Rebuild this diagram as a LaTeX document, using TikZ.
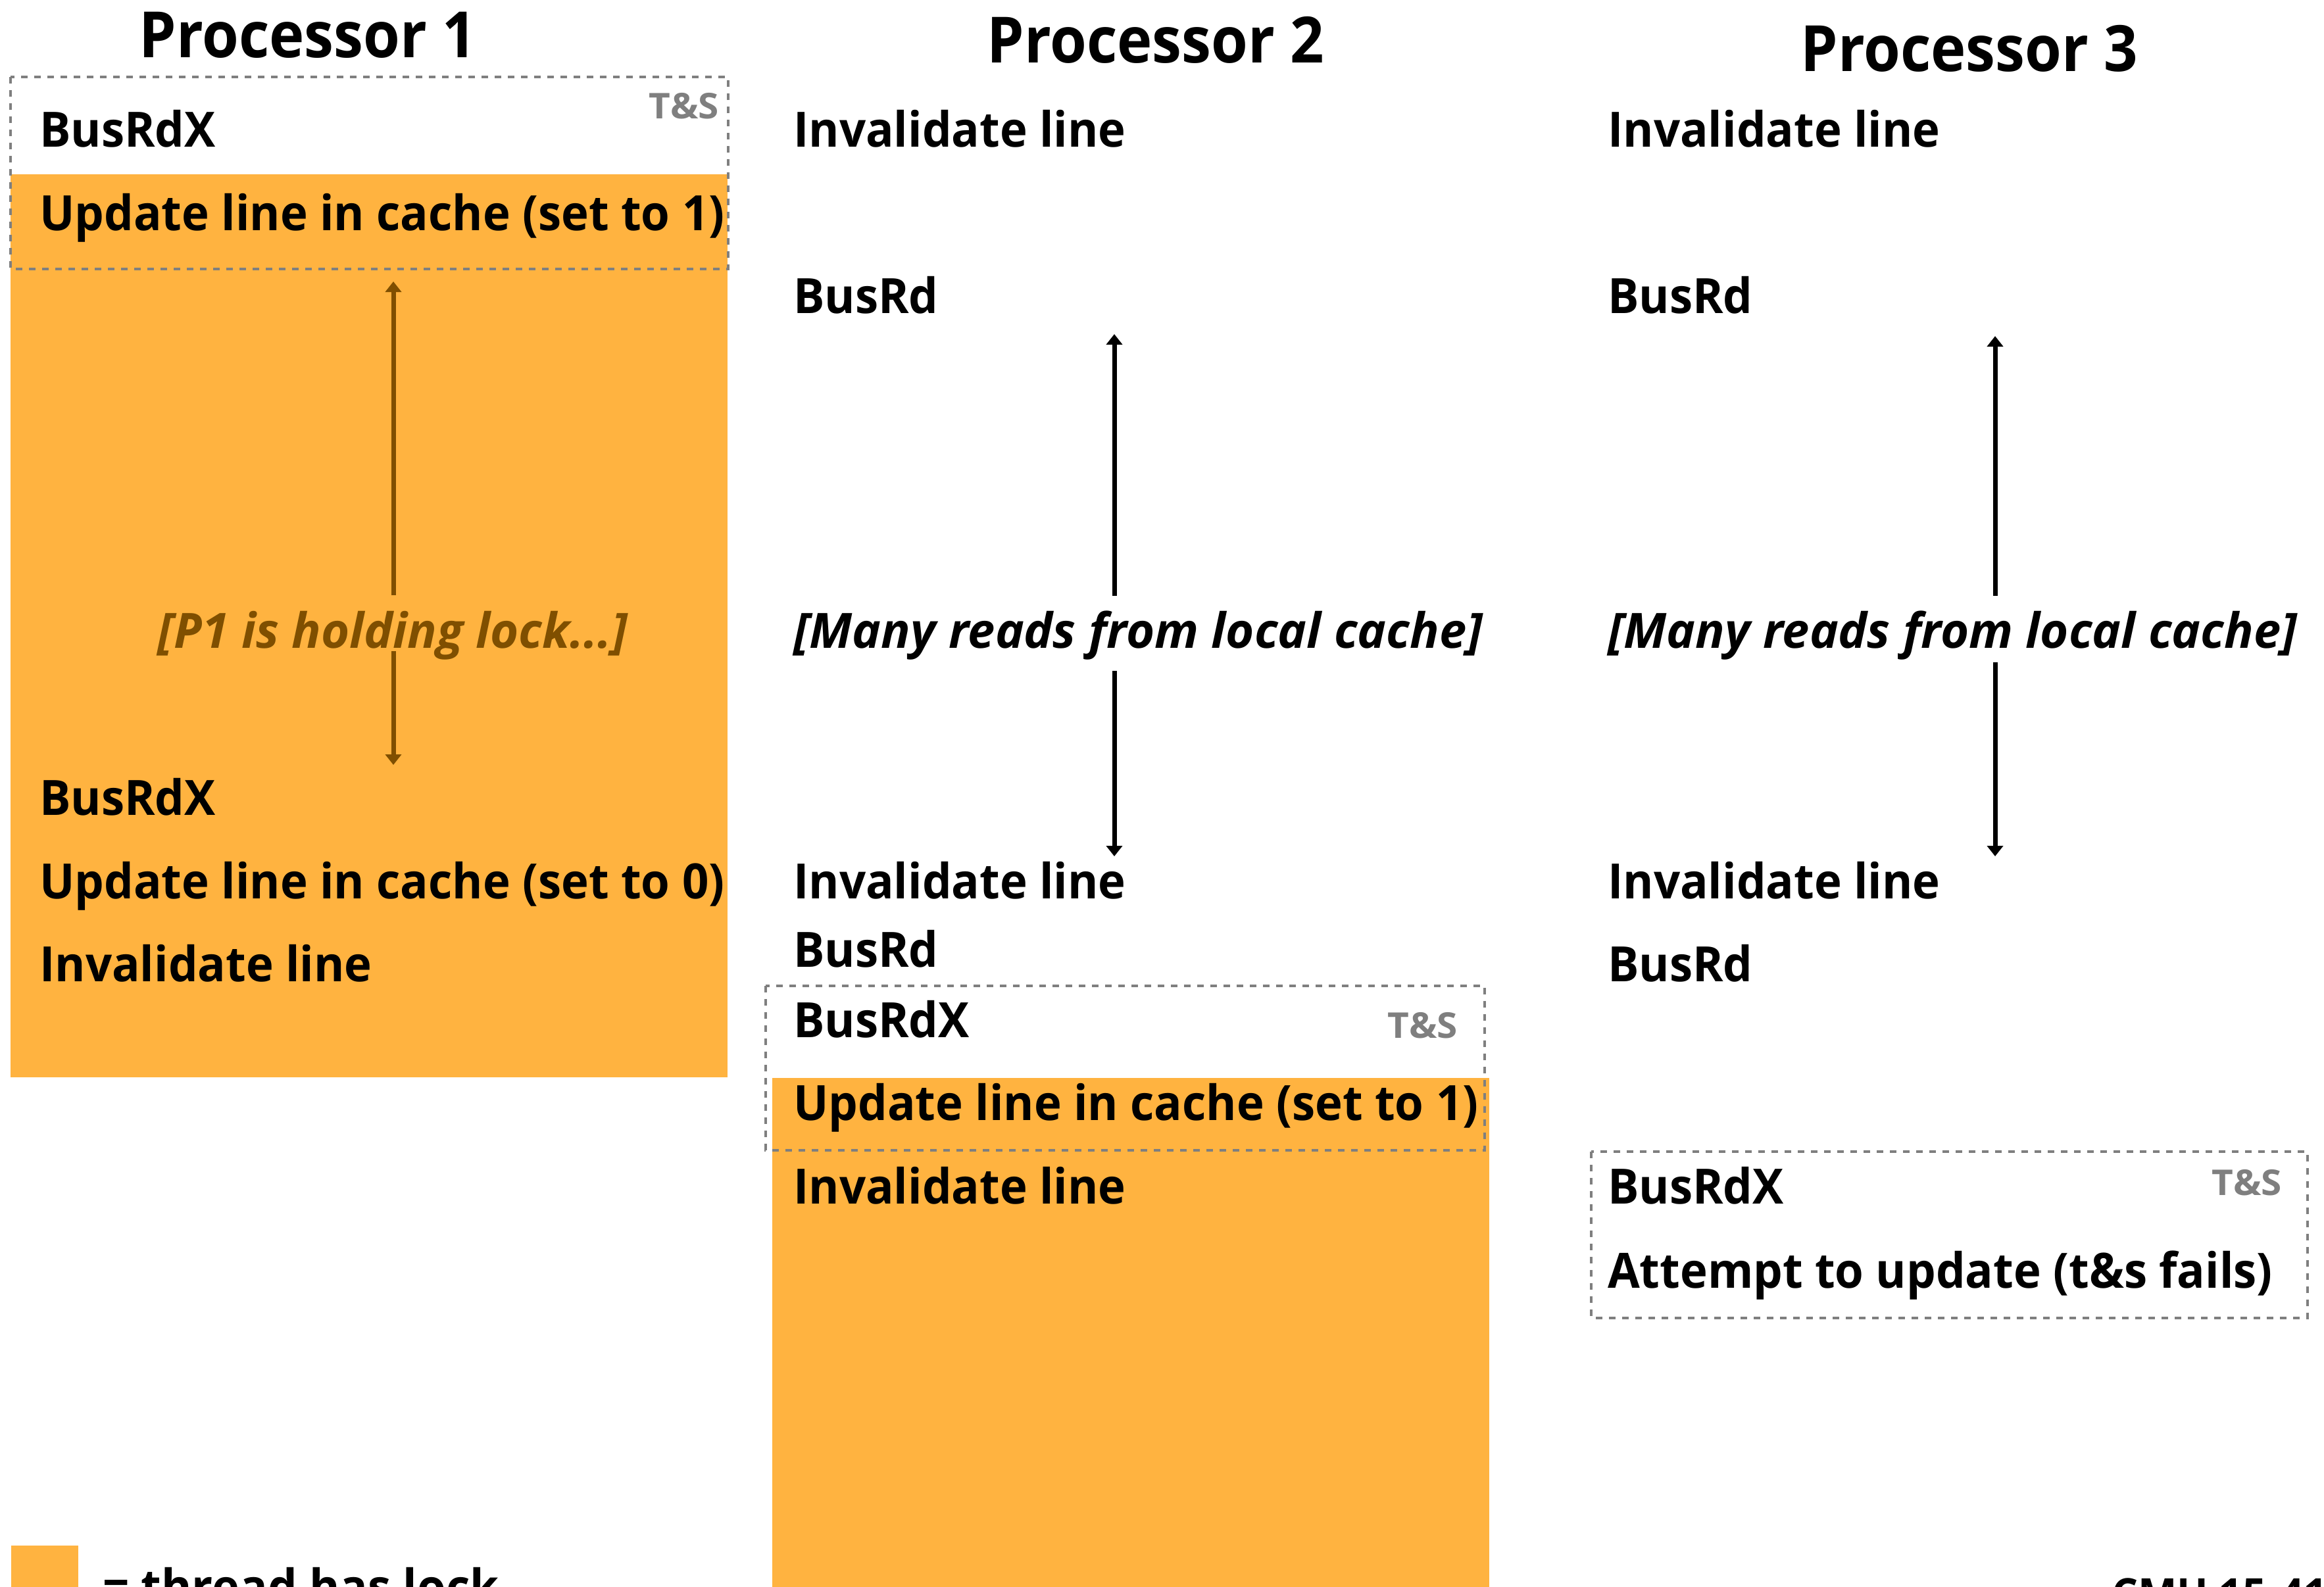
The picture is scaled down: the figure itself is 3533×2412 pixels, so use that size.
\documentclass[tikz,border=0pt]{standalone}
\usepackage{fontspec}
\setmainfont{Open Sans}[FakeStretch=0.955]
\newfontfamily\notefont{Open Sans}[FakeStretch=1.0]
\newfontfamily\headfont{Open Sans}[FakeStretch=0.93]
\newfontfamily\tagfont{Open Sans}[FakeStretch=1.05]
\usetikzlibrary{arrows.meta}
\definecolor{lockorange}{RGB}{255,179,64}
\definecolor{dashgray}{RGB}{127,127,127}
\definecolor{holdbrown}{RGB}{127,79,0}

\begin{document}
\begin{tikzpicture}[x=1pt,y=-1pt,
  op/.style={anchor=base west, inner sep=0pt, font=\fontsize{74}{80}\selectfont\bfseries},
  note/.style={anchor=base west, inner sep=0pt, font=\notefont\fontsize{74}{80}\selectfont\bfseries\itshape},
  proctitle/.style={anchor=base, inner sep=0pt, font=\headfont\fontsize{97}{100}\selectfont\bfseries},
  tands/.style={anchor=base east, inner sep=0pt, text=dashgray, font=\tagfont\fontsize{54}{58}\selectfont\bfseries},
  tsbox/.style={draw=dashgray, line width=4pt, dash pattern=on 10pt off 10pt},
  span/.style={line width=7pt, -{Triangle[width=24pt,length=16pt]}},
]
\useasboundingbox (0,0) rectangle (3533,2412);
\clip (0,0) rectangle (3533,2412);

% periods during which a thread holds the lock
\fill[lockorange] (16,265) rectangle (1106,1638);
\fill[lockorange] (1174,1639) rectangle (2264,2430);

% test-and-set regions
\draw[tsbox] (16,117) rectangle (1107,409);
\draw[tsbox] (1164,1499) rectangle (2257,1749);
\draw[tsbox] (2419,1751) rectangle (3508,2004);

% column headings
\node[proctitle] (t1) at (468,87) {Processor 1};
\node[proctitle] (t2) at (1757,95) {Processor 2};
\node[proctitle] (t3) at (2994,108) {Processor 3};

% Processor 1
\node[op] (a1) at (60,223) {BusRdX};
\node[tands] (ts1) at (1093,180) {T\&S};
\node[op] (a2) at (60,350) {Update line in cache (set to 1)};
\node[note, anchor=base, text=holdbrown] (a3) at (597,985) {[P1 is holding lock...]};
\node[op] (a4) at (60,1239) {BusRdX};
\node[op] (a5) at (60,1366) {Update line in cache (set to 0)};
\node[op] (a6) at (60,1492) {Invalidate line};

% Processor 2
\node[op] (b1) at (1206,223) {Invalidate line};
\node[op] (b2) at (1206,476) {BusRd};
\node[note] (b3) at (1206,985) {[Many reads from local cache]};
\node[op] (b4) at (1206,1366) {Invalidate line};
\node[op] (b5) at (1206,1470) {BusRd};
\node[op] (b6) at (1206,1577) {BusRdX};
\node[tands] (ts2) at (2216,1578) {T\&S};
\node[op] (b7) at (1206,1703) {Update line in cache (set to 1)};
\node[op] (b8) at (1206,1830) {Invalidate line};

% Processor 3
\node[op] (c1) at (2444,223) {Invalidate line};
\node[op] (c2) at (2444,476) {BusRd};
\node[note] (c3) at (2444,985) {[Many reads from local cache]};
\node[op] (c4) at (2444,1366) {Invalidate line};
\node[op] (c5) at (2444,1492) {BusRd};
\node[op] (c6) at (2444,1830) {BusRdX};
\node[tands] (ts3) at (3469,1817) {T\&S};
\node[op] (c7) at (2444,1958) {Attempt to update (t\&s fails)};

% duration markers
\coordinate (p1top) at (598,428);
\coordinate (p1up) at (598,905);
\coordinate (p1dn) at (598,990);
\coordinate (p1bot) at (598,1163);
\draw[span, holdbrown] (p1up) -- (p1top);
\draw[span, holdbrown] (p1dn) -- (p1bot);

\coordinate (p2top) at (1694,508);
\coordinate (p2up) at (1694,906);
\coordinate (p2dn) at (1694,1020);
\coordinate (p2bot) at (1694,1302);
\draw[span] (p2up) -- (p2top);
\draw[span] (p2dn) -- (p2bot);

\coordinate (p3top) at (3033,511);
\coordinate (p3up) at (3033,906);
\coordinate (p3dn) at (3033,1007);
\coordinate (p3bot) at (3033,1302);
\draw[span] (p3up) -- (p3top);
\draw[span] (p3dn) -- (p3bot);

% legend and footer
\fill[lockorange] (17,2350) rectangle (119,2430);
\node[op] (key) at (156,2439) {= thread has lock};
\node[op, font=\fontsize{66}{70}\selectfont\bfseries] (foot) at (3210,2447) {CMU 15-418/618};
\end{tikzpicture}
\end{document}
